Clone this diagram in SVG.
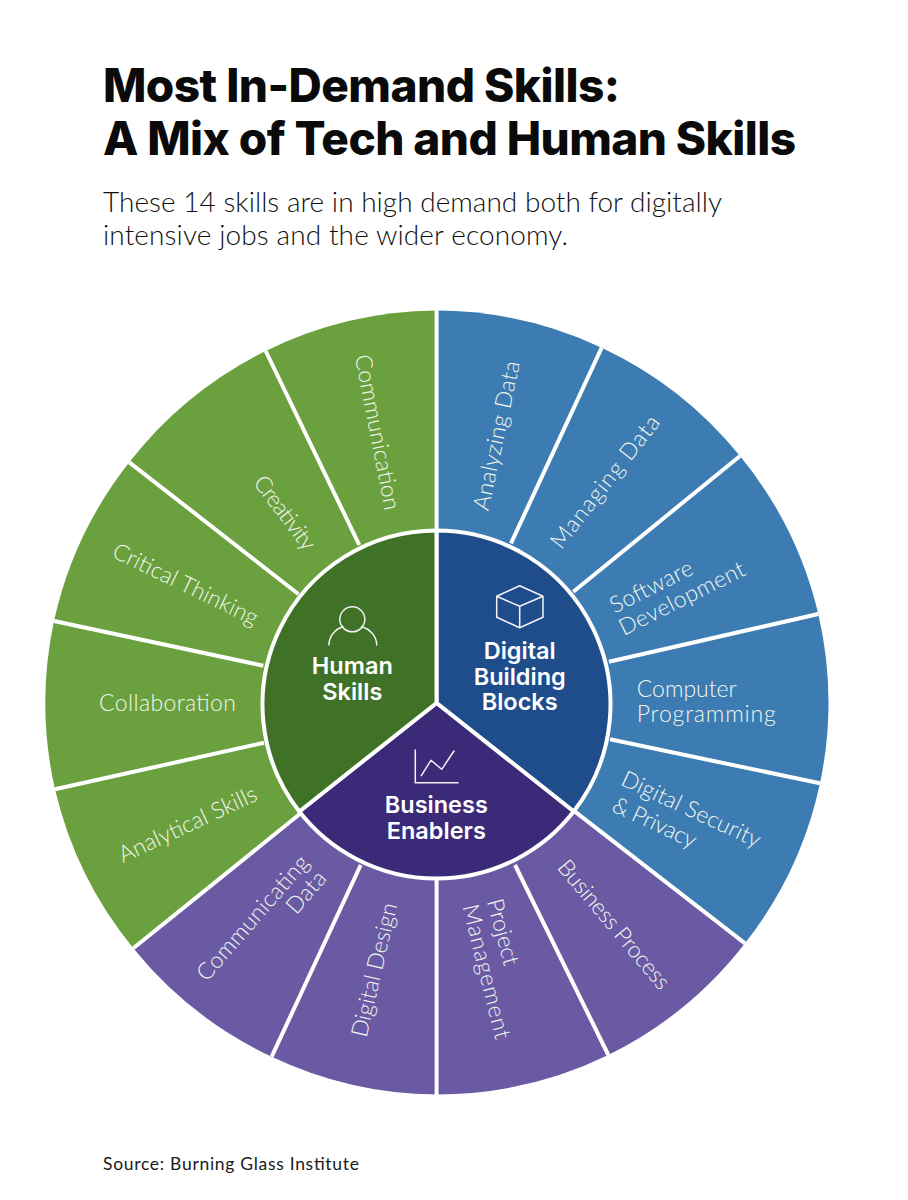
<svg xmlns="http://www.w3.org/2000/svg" width="908" height="1200" viewBox="0 0 908 1200">
<style>
.title{font-family:Inter,"Liberation Sans",sans-serif;font-weight:800;font-size:46px;fill:#0a0a0a}
.sub{font-family:Lato,"Liberation Sans",sans-serif;font-weight:300;font-size:28px;fill:#111}
.src{font-family:Lato,"Liberation Sans",sans-serif;font-size:17.5px;fill:#1a1a1a}
.lab{font-family:Lato,"Liberation Sans",sans-serif;font-weight:300;font-size:23px;fill:#f2f6ee}
.hub{font-family:Inter,"Liberation Sans",sans-serif;font-weight:600;font-size:23.5px;fill:#fff;text-anchor:middle}
.m{text-anchor:middle}
.g{fill:#6aa03d}.b{fill:#3c7cb2}.p{fill:#6a5aa3}
.ic{fill:none;stroke:#f2f2f2;stroke-width:1.5;stroke-linejoin:round;stroke-linecap:round}
.div{stroke:#fff;stroke-width:4;fill:none}
.hw{stroke:#fff;stroke-width:4;stroke-linejoin:round}
</style>
<rect width="908" height="1200" fill="#fff"/>
<text class="title" x="103" y="102" textLength="517">Most In-Demand Skills:</text>
<text class="title" x="103" y="155" textLength="693">A Mix of Tech and Human Skills</text>
<text class="sub" x="103" y="212" textLength="619">These 14 skills are in high demand both for digitally</text>
<text class="sub" x="103" y="245" textLength="465">intensive jobs and the wider economy.</text>

<g id="analyzing-data"><path class="b" d="M436.6,703V310.5A392,392 0 0 1 601.7,347.7Z"/><text class="lab m" transform="translate(497.3,435.7) rotate(-78)" y="7" textLength="152">Analyzing Data</text></g>
<g id="managing-data"><path class="b" d="M436.6,703L601.7,347.7A392,392 0 0 1 740,456Z"/><text class="lab m" transform="translate(605.7,482.3) rotate(-52)" y="7" textLength="162">Managing Data</text></g>
<g id="software-development"><path class="b" d="M436.6,703L740,456A392,392 0 0 1 818.3,614Z"/><text class="lab m" transform="translate(651.7,587.3) rotate(-26.5)" y="7" textLength="90">Software</text><text class="lab m" transform="translate(682.3,599) rotate(-26.5)" y="7" textLength="138">Development</text></g>
<g id="computer-programming"><path class="b" d="M436.6,703L818.3,614A392,392 0 0 1 820,783.3Z"/><text class="lab" x="636.7" y="697" textLength="100">Computer</text><text class="lab" x="636.7" y="721.5" textLength="139">Programming</text></g>
<g id="digital-security"><path class="b" d="M436.6,703L820,783.3A392,392 0 0 1 745,943.3Z"/><text class="lab m" transform="translate(691,810) rotate(25)" y="7" textLength="151">Digital Security</text><text class="lab m" transform="translate(654.3,823.3) rotate(25)" y="7" textLength="90">&amp; Privacy</text></g>
<g id="business-process"><path class="p" d="M436.6,703L745,943.3A392,392 0 0 1 608.3,1055Z"/><text class="lab m" transform="translate(613.3,925) rotate(50)" y="7" textLength="161">Business Process</text></g>
<g id="project-management"><path class="p" d="M436.6,703L608.3,1055A392,392 0 0 1 436.6,1094.5Z"/><text class="lab m" transform="translate(502.3,932.3) rotate(75)" y="7" textLength="68">Project</text><text class="lab m" transform="translate(485.7,971.7) rotate(76)" y="7" textLength="138">Management</text></g>
<g id="digital-design"><path class="p" d="M436.6,703V1094.5A392,392 0 0 1 271.7,1056.7Z"/><text class="lab m" transform="translate(375,970) rotate(-77)" y="7" textLength="137">Digital Design</text></g>
<g id="communicating-data"><path class="p" d="M436.6,703L271.7,1056.7A392,392 0 0 1 133.3,948.3Z"/><text class="lab m" transform="translate(253.3,918.3) rotate(-49)" y="7" textLength="158">Communicating</text><text class="lab m" transform="translate(306.7,892.7) rotate(-49)" y="7" textLength="48">Data</text></g>
<g id="analytical-skills"><path class="g" d="M436.6,703L133.3,948.3A392,392 0 0 1 55,789.3Z"/><text class="lab m" transform="translate(188,825) rotate(-25)" y="7" textLength="150">Analytical Skills</text></g>
<g id="collaboration"><path class="g" d="M436.6,703L55,789.3A392,392 0 0 1 54,621Z"/><text class="lab m" x="167.5" y="711" textLength="137">Collaboration</text></g>
<g id="critical-thinking"><path class="g" d="M436.6,703L54,621A392,392 0 0 1 129.3,462.3Z"/><text class="lab m" transform="translate(185.3,585) rotate(26)" y="7" textLength="159">Critical Thinking</text></g>
<g id="creativity"><path class="g" d="M436.6,703L129.3,462.3A392,392 0 0 1 265.7,351Z"/><text class="lab m" transform="translate(284.3,513.3) rotate(53)" y="7" textLength="87">Creativity</text></g>
<g id="communication"><path class="g" d="M436.6,703L265.7,351A392,392 0 0 1 436.6,310.5Z"/><text class="lab m" transform="translate(376.7,432.4) rotate(79)" y="7" textLength="158">Communication</text></g>

<g id="connectors">
<path class="div" d="M436.6,308V530M601.7,347.7L511,543.3M740,456L573.3,591.7M818.3,614L609,661.7M820,783.3L610,739.3M745,943.3L575,811.7M608.3,1055L515,865M436.6,1097V878M271.7,1056.7L360.7,865M133.3,948.3L300.7,813.3M55,789.3L264,742.7M54,621L263.3,665.7M129.3,462.3L298.3,594M265.7,351L359.3,545"/>
</g>

<g id="hub-digital-building-blocks"><path class="hw" fill="#1f4d8c" d="M436.5,703V530.5A174,174 0 0 1 573.7,811.5Z"/>
<path class="ic" d="M519.7,585.7L543,596.3V617.3L519.7,627.7L496.7,617.3V596.3ZM496.7,596.3L519.7,606.3L543,596.3M519.7,606.3V627.7"/>
<text class="hub" x="519.7" y="658.7">Digital</text><text class="hub" x="519.7" y="684.7">Building</text><text class="hub" x="519.7" y="710.3">Blocks</text></g>
<g id="hub-business-enablers"><path class="hw" fill="#3a2a78" d="M436.5,703L573.7,811.5A174,174 0 0 1 299.3,811.5Z"/>
<path class="ic" d="M415.3,750V782.7H458M421.3,775.7L431,760.3L441.7,769.3L454,751"/>
<text class="hub" x="436.3" y="813.3">Business</text><text class="hub" x="436.3" y="838.7">Enablers</text></g>
<g id="hub-human-skills"><path class="hw" fill="#3f7227" d="M436.5,703L299.3,811.5A174,174 0 0 1 436.5,530.5Z"/>
<circle class="ic" cx="352.3" cy="619.3" r="12.5"/>
<path class="ic" d="M329,645C329,635 336,629 343,626.5M376.7,645C376.7,635 369,629 361.5,626.5"/>
<text class="hub" x="352.3" y="674">Human</text><text class="hub" x="352.3" y="700">Skills</text></g>

<text class="src" x="103" y="1170" textLength="256">Source: Burning Glass Institute</text>
</svg>
